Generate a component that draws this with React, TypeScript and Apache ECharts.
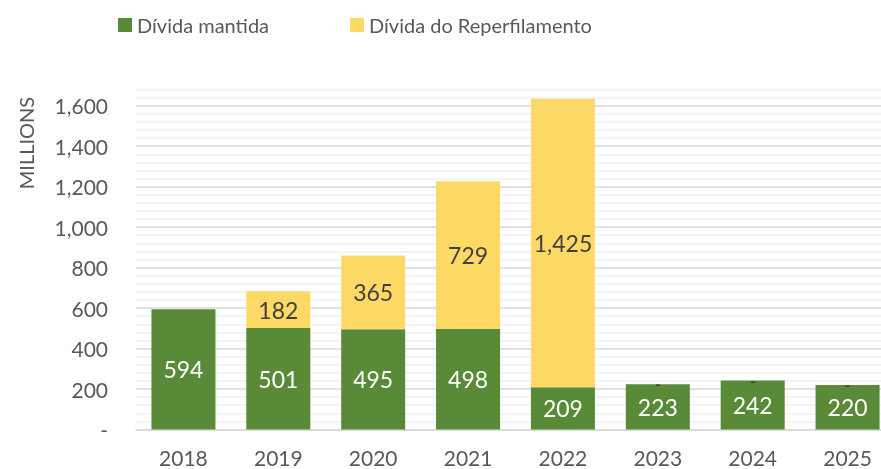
import React, { useEffect, useRef } from "react";
import * as echarts from "echarts";

const categories = ["2018", "2019", "2020", "2021", "2022", "2023", "2024", "2025"];
const mantida = [594, 501, 495, 498, 209, 223, 242, 220];
const reperfil: (number | null)[] = [null, 182, 365, 729, 1425, 0, 0, 0];
const seriesNames = ["Dívida mantida", "Dívida do Reperfilamento"];
const axisTitle = "MILLIONS";

const FONT = "Lato";
const fmt = (v: number) => (v === 0 ? "-" : v.toLocaleString("en-US"));

export default function App() {
  const ref = useRef<HTMLDivElement>(null);
  useEffect(() => {
    if (!ref.current) return;
    const chart = echarts.init(ref.current, undefined, { renderer: "svg" });
    const reperfilData = reperfil.map((v) =>
      v === 0
        ? { value: v, label: { fontSize: 15, fontWeight: "bold" } }
        : v === null
        ? "-"
        : v
    );
    chart.setOption({
      animation: false,
      textStyle: { fontFamily: FONT },
      legend: [
        {
          data: [seriesNames[0]],
          left: 113,
          top: 10,
          itemWidth: 14,
          itemHeight: 14,
          itemGap: 0,
          textStyle: { fontFamily: FONT, fontSize: 20, color: "#595959" },
          icon: "rect",
        },
        {
          data: [seriesNames[1]],
          left: 345,
          top: 10,
          itemWidth: 14,
          itemHeight: 14,
          textStyle: { fontFamily: FONT, fontSize: 20, color: "#595959" },
          icon: "rect",
        },
      ],
      graphic: [
        {
          type: "text",
          x: 26,
          y: 143,
          rotation: Math.PI / 2,
          style: {
            text: axisTitle,
            fontFamily: FONT,
            fontSize: 20,
            fill: "#595959",
            align: "center",
            verticalAlign: "middle",
          },
        },
      ],
      grid: { left: 136, right: 1, top: 89.5, bottom: 39.5 },
      xAxis: {
        type: "category",
        data: categories,
        axisLine: { lineStyle: { color: "#d9d9d9", width: 1.5 } },
        axisTick: { show: false },
        axisLabel: { fontFamily: FONT, fontSize: 21, color: "#595959", margin: 17 },
      },
      yAxis: {
        type: "value",
        min: 0,
        max: 1680,
        interval: 40,
        axisLine: { show: false },
        axisTick: { show: false },
        axisLabel: {
          fontFamily: FONT,
          fontSize: 21,
          color: "#595959",
          margin: 28,
          formatter: (v: number) => (v % 200 === 0 ? fmt(v) : ""),
        },
        splitLine: {
          lineStyle: {
            color: ["#d9d9d9", "#f0f0f0", "#f0f0f0", "#f0f0f0", "#f0f0f0"],
            width: 1.5,
          },
        },
      },
      series: [
        {
          name: seriesNames[0],
          type: "bar",
          stack: "total",
          barWidth: 64,
          data: mantida,
          itemStyle: { color: "#588A37" },
          label: {
            show: true,
            position: "inside",
            fontFamily: FONT,
            fontSize: 23,
            color: "#ffffff",
            formatter: (p: any) => fmt(p.value),
          },
        },
        {
          name: seriesNames[1],
          type: "bar",
          stack: "total",
          barWidth: 64,
          data: reperfilData,
          itemStyle: { color: "#FFD966" },
          label: {
            show: true,
            position: "inside",
            fontFamily: FONT,
            fontSize: 23,
            color: "#404040",
            formatter: (p: any) => fmt(p.value),
          },
        },
      ],
    });
    return () => chart.dispose();
  }, []);
  return (
    <div
      ref={ref}
      style={{ position: "fixed", left: 0, top: 0, width: 896, height: 469 }}
    />
  );
}
